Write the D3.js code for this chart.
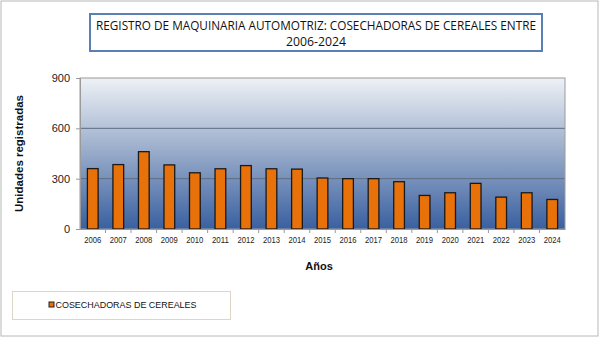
<!DOCTYPE html>
<html>
<head>
<meta charset="utf-8">
<script src="https://cdn.jsdelivr.net/npm/d3@7/dist/d3.min.js"></script>
<style>
  html, body { margin: 0; padding: 0; background: #fff; }
  svg { display: block; }
</style>
</head>
<body>
<svg id="chart" width="600" height="337"></svg>
<script>
// Registered combine harvesters per year
const years = ["2006","2007","2008","2009","2010","2011","2012","2013","2014","2015",
               "2016","2017","2018","2019","2020","2021","2022","2023","2024"];
const units = [360, 384, 461, 382, 335, 359, 378, 359, 357, 304,
               300, 300, 282, 200, 216, 272, 190, 216, 176];
const yTicks = [0, 300, 600, 900];
const seriesName = "COSECHADORAS DE CEREALES";
const titleLines = ["REGISTRO DE MAQUINARIA AUTOMOTRIZ: COSECHADORAS DE CEREALES ENTRE", "2006-2024"];

const svg = d3.select("#chart");
const W = 600, H = 337;
const plot = { left: 80, top: 78, right: 565, bottom: 229 };

// Outer frame
svg.append("rect").attr("x", 1).attr("y", 1).attr("width", W - 3).attr("height", H - 2)
  .attr("fill", "#fff").attr("stroke", "#b8b8b8").attr("stroke-width", 1);

// Background gradient for the plot area
const defs = svg.append("defs");
const grad = defs.append("linearGradient").attr("id", "plotBg")
  .attr("x1", 0).attr("y1", 0).attr("x2", 0).attr("y2", 1);
grad.append("stop").attr("offset", "0%").attr("stop-color", "#eef1f6");
grad.append("stop").attr("offset", "45%").attr("stop-color", "#9fb1cd");
grad.append("stop").attr("offset", "100%").attr("stop-color", "#3a60a0");

const x = d3.scaleBand().domain(years).range([plot.left, plot.right]).paddingInner(0.58).paddingOuter(0.29);
const y = d3.scaleLinear().domain([0, 900]).range([plot.bottom, plot.top]);

svg.append("rect")
  .attr("x", plot.left).attr("y", plot.top)
  .attr("width", plot.right - plot.left).attr("height", plot.bottom - plot.top)
  .attr("fill", "url(#plotBg)");

// Gridlines
svg.append("g").selectAll("line").data(yTicks.filter(d => d > 0 && d < 900)).join("line")
  .attr("x1", plot.left).attr("x2", plot.right)
  .attr("y1", d => y(d)).attr("y2", d => y(d))
  .attr("stroke", "#5d6c80").attr("stroke-width", 1);

// Plot border
svg.append("rect")
  .attr("x", plot.left).attr("y", plot.top)
  .attr("width", plot.right - plot.left).attr("height", plot.bottom - plot.top)
  .attr("fill", "none").attr("stroke", "#9a9a9a").attr("stroke-width", 1);

// Bars
svg.append("g").selectAll("rect").data(years).join("rect")
  .attr("x", (d) => x(d))
  .attr("y", (d, i) => y(units[i]))
  .attr("width", x.bandwidth())
  .attr("height", (d, i) => y(0) - y(units[i]))
  .attr("fill", "#e8710a")
  .attr("stroke", "#1a1a1a").attr("stroke-width", 1.3);

// Y axis
const yAxis = svg.append("g").attr("transform", `translate(${plot.left},0)`)
  .call(d3.axisLeft(y).tickValues(yTicks).tickSize(4).tickPadding(6));
yAxis.select(".domain").attr("stroke", "#9a9a9a");
yAxis.selectAll(".tick line").attr("stroke", "#9a9a9a");
yAxis.selectAll(".tick text").attr("font-family", "Liberation Sans, Arial, sans-serif")
  .attr("font-size", 11).attr("fill", "#222");

// X axis
const xAxis = svg.append("g").attr("transform", `translate(0,${plot.bottom})`)
  .call(d3.axisBottom(x).tickSize(0).tickPadding(7));
xAxis.select(".domain").attr("stroke", "#9a9a9a");
xAxis.selectAll(".tick text").attr("font-family", "Liberation Sans, Arial, sans-serif")
  .attr("font-size", 9.3).attr("fill", "#222")
  .attr("textLength", 17).attr("lengthAdjust", "spacingAndGlyphs");
// category separator ticks
svg.append("g").selectAll("line").data(years.slice(1)).join("line")
  .attr("x1", d => x(d) - x.step() * x.paddingInner() / 2)
  .attr("x2", d => x(d) - x.step() * x.paddingInner() / 2)
  .attr("y1", plot.bottom).attr("y2", plot.bottom + 4)
  .attr("stroke", "#9a9a9a");

// Axis titles
svg.append("text")
  .attr("transform", `translate(23,${(plot.top + plot.bottom) / 2 + 0}) rotate(-90)`)
  .attr("text-anchor", "middle")
  .attr("font-family", "Liberation Sans, Arial, sans-serif")
  .attr("font-weight", "bold").attr("font-size", 11.5).attr("fill", "#111")
  .text("Unidades registradas");
svg.append("text")
  .attr("x", 319).attr("y", 270)
  .attr("text-anchor", "middle")
  .attr("font-family", "Liberation Sans, Arial, sans-serif")
  .attr("font-weight", "bold").attr("font-size", 11).attr("fill", "#111")
  .text("Años");

// Title box
svg.append("rect").attr("x", 90).attr("y", 14).attr("width", 452).attr("height", 37)
  .attr("fill", "#fff").attr("stroke", "#5a7fb5").attr("stroke-width", 2);
svg.append("text").attr("x", 316).attr("y", 30).attr("text-anchor", "middle")
  .attr("font-family", "Open Sans, sans-serif").attr("font-size", 12.5).attr("fill", "#111")
  .attr("textLength", 440).attr("lengthAdjust", "spacingAndGlyphs")
  .text(titleLines[0]);
svg.append("text").attr("x", 316).attr("y", 46).attr("text-anchor", "middle")
  .attr("font-family", "Open Sans, sans-serif").attr("font-size", 12.5).attr("fill", "#111")
  .attr("textLength", 60).attr("lengthAdjust", "spacingAndGlyphs")
  .text(titleLines[1]);

// Legend
svg.append("rect").attr("x", 12.5).attr("y", 291.5).attr("width", 218).attr("height", 28)
  .attr("fill", "#fff").attr("stroke", "#ddd5c6").attr("stroke-width", 1);
svg.append("rect").attr("x", 49).attr("y", 302).attr("width", 5).attr("height", 5)
  .attr("fill", "#e8710a").attr("stroke", "#222").attr("stroke-width", 1);
svg.append("text").attr("x", 55.5).attr("y", 308)
  .attr("font-family", "Liberation Sans, Arial, sans-serif").attr("font-size", 9).attr("fill", "#111")
  .attr("textLength", 141).attr("lengthAdjust", "spacingAndGlyphs")
  .text(seriesName);
</script>
</body>
</html>
